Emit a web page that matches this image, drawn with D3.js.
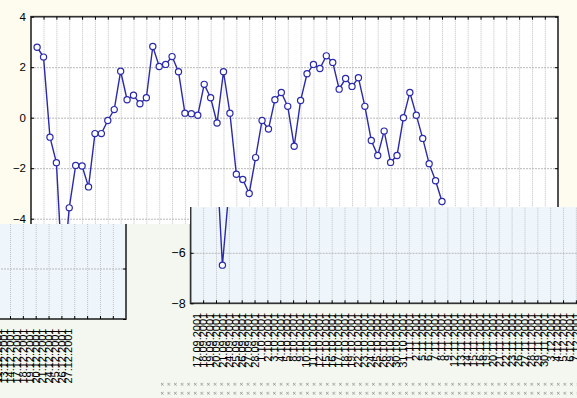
<!DOCTYPE html>
<html>
<head>
<meta charset="utf-8">
<script src="https://cdn.jsdelivr.net/npm/d3@7"></script>
<style>
html, body { margin: 0; padding: 0; background: #fdfcee; }
svg { display: block; font-family: "Liberation Sans", Arial, sans-serif; }
</style>
</head>
<body>
<svg id="chart" width="577" height="398"></svg>
<script>
// trading days shown on the x axis
var dates = ["17.09.2001","18.09.2001","19.09.2001","20.09.2001","21.09.2001",
             "24.09.2001","25.09.2001","26.09.2001","27.09.2001","28.09.2001",
             "1.10.2001","2.10.2001","3.10.2001","4.10.2001","5.10.2001",
             "8.10.2001","9.10.2001","10.10.2001","11.10.2001","12.10.2001",
             "15.10.2001","16.10.2001","17.10.2001","18.10.2001","19.10.2001",
             "22.10.2001","23.10.2001","24.10.2001","25.10.2001","26.10.2001",
             "29.10.2001","30.10.2001","31.10.2001",
             "1.11.2001","2.11.2001","5.11.2001","6.11.2001","7.11.2001",
             "8.11.2001","9.11.2001","12.11.2001","13.11.2001","14.11.2001",
             "15.11.2001","16.11.2001","19.11.2001","20.11.2001","21.11.2001",
             "22.11.2001","23.11.2001","26.11.2001","27.11.2001","28.11.2001",
             "29.11.2001","30.11.2001",
             "3.12.2001","4.12.2001","5.12.2001","6.12.2001","7.12.2001",
             "10.12.2001","11.12.2001","13.12.2001","14.12.2001","17.12.2001",
             "18.12.2001","19.12.2001","20.12.2001","21.12.2001","24.12.2001",
             "25.12.2001","26.12.2001","27.12.2001"];

var values = [2.79, 2.40, -0.77, -1.78, -6.49, -3.57, -1.89, -1.91, -2.74, -0.63,
              -0.63, -0.11, 0.32, 1.84, 0.71, 0.89, 0.55, 0.79, 2.82, 2.03,
              2.11, 2.42, 1.82, 0.18, 0.16, 0.10, 1.32, 0.79, -0.21, 1.82,
              0.18, -2.24, -2.45, -3.00, -1.58, -0.11, -0.45, 0.71, 1.00, 0.45,
              -1.13, 0.68, 1.74, 2.11, 1.95, 2.45, 2.19, 1.13, 1.55, 1.24,
              1.58, 0.45, -0.90, -1.50, -0.53, -1.77, -1.50, 0.00, 1.00, 0.10,
              -0.82, -1.82, -2.50, -3.32];

var yTicks = [-8, -6, -4, -2, 0, 2, 4];

var svg = d3.select("#chart");

var x = d3.scaleLinear().domain([-0.95, 81.05]).range([31, 558]);
var y = d3.scaleLinear().domain([-8, 4]).range([319.7, 16.7]);

var gridIdx = d3.range(1, 80, 2);
var labelIdx = d3.range(dates.length);

function drawChart(g, outerBg, plotBg, yFont) {
	g.append("rect")
		.attr("x", -800).attr("y", -200)
		.attr("width", 2400).attr("height", 900)
		.attr("fill", outerBg);

	g.append("rect")
		.attr("x", 31).attr("y", y(4))
		.attr("width", 527).attr("height", y(-8) - y(4))
		.attr("fill", plotBg);

	// vertical grid
	g.append("g")
		.attr("transform", "translate(0," + y(-8) + ")")
		.call(d3.axisBottom(x).tickValues(gridIdx).tickSize(-(y(-8) - y(4))).tickFormat(""))
		.call(function(a){ a.select(".domain").remove(); })
		.selectAll("line")
		.attr("stroke", "#c0c0c0")
		.attr("stroke-dasharray", "1,1");

	// horizontal grid
	g.append("g")
		.attr("transform", "translate(31,0)")
		.call(d3.axisLeft(y).tickValues([-6, -4, -2, 0, 2]).tickSize(-527).tickFormat(""))
		.call(function(a){ a.select(".domain").remove(); })
		.selectAll("line")
		.attr("stroke", "#b8b8b8")
		.attr("stroke-dasharray", "2,1");

	var line = d3.line()
		.x(function(d, i){ return x(i); })
		.y(function(d){ return y(d); });

	g.append("path")
		.datum(values)
		.attr("d", line)
		.attr("fill", "none")
		.attr("stroke", "#2a2aaa")
		.attr("stroke-width", 1.4);

	g.selectAll("circle.pt")
		.data(values)
		.enter()
		.append("circle")
		.attr("class", "pt")
		.attr("cx", function(d, i){ return x(i); })
		.attr("cy", function(d){ return y(d); })
		.attr("r", 3.1)
		.attr("fill", "#ffffff")
		.attr("stroke", "#2a2aaa")
		.attr("stroke-width", 1.2);

	// frame
	g.append("rect")
		.attr("x", 31).attr("y", y(4))
		.attr("width", 527).attr("height", y(-8) - y(4))
		.attr("fill", "none")
		.attr("stroke", "#333333")
		.attr("stroke-width", 1.7);

	// inward ticks
	g.append("g")
		.attr("transform", "translate(0," + y(4) + ")")
		.call(d3.axisTop(x).tickValues(gridIdx).tickSize(-3).tickFormat(""))
		.call(function(a){ a.select(".domain").remove(); });
	g.append("g")
		.attr("transform", "translate(0," + y(-8) + ")")
		.call(d3.axisBottom(x).tickValues(gridIdx).tickSize(-3).tickFormat(""))
		.call(function(a){ a.select(".domain").remove(); });
	g.append("g")
		.attr("transform", "translate(558,0)")
		.call(d3.axisRight(y).tickValues(yTicks).tickSize(-3).tickFormat(""))
		.call(function(a){ a.select(".domain").remove(); });

	// y axis labels
	g.append("g")
		.attr("transform", "translate(31,0)")
		.call(d3.axisLeft(y).tickValues(yTicks).tickSize(-3).tickPadding(5).tickFormat(d3.format("d")))
		.call(function(a){ a.select(".domain").remove(); })
		.selectAll("text")
		.attr("font-size", yFont)
		.attr("font-family", "Liberation Sans, Arial, sans-serif")
		.attr("fill", "#000");

	// x axis labels, rotated
	g.append("g")
		.attr("transform", "translate(0," + y(-8) + ")")
		.call(d3.axisBottom(x).tickValues(labelIdx).tickSize(0).tickFormat(function(i){ return dates[i]; }))
		.call(function(a){ a.select(".domain").remove(); })
		.selectAll("text")
		.attr("transform", "rotate(-90)")
		.attr("x", -9.5)
		.attr("y", 0)
		.attr("dy", "0.35em")
		.style("text-anchor", "end")
		.attr("font-size", "11px")
		.attr("font-family", "Liberation Sans, Arial, sans-serif")
		.attr("fill", "#000");
}

var defs = svg.append("defs");

defs.append("clipPath").attr("id", "clipLeft")
	.append("rect").attr("x", 0).attr("y", 224).attr("width", 160).attr("height", 174);

var cr = defs.append("clipPath").attr("id", "clipRight");
cr.append("rect").attr("x", 190).attr("y", 207).attr("width", 387).attr("height", 191);
cr.append("rect").attr("x", 160).attr("y", 224).attr("width", 30).attr("height", 174);

var pat = defs.append("pattern")
	.attr("id", "dots")
	.attr("patternUnits", "userSpaceOnUse")
	.attr("x", 160).attr("y", 382)
	.attr("width", 6.6).attr("height", 9);
pat.append("path")
	.attr("d", "M1,1 L3.5,3.5 M3.5,1 L1,3.5")
	.attr("stroke", "#8a8a8a")
	.attr("stroke-width", 0.8);

// main view
drawChart(svg.append("g"), "#fdfcee", "#ffffff", "11.5px");

// left fragment
var left = svg.append("g").attr("clip-path", "url(#clipLeft)")
	.append("g").attr("transform", "translate(-432,-0.7)");
drawChart(left, "#f3f7ef", "#eef6fb", "12.5px");

// right fragment
var right = svg.append("g").attr("clip-path", "url(#clipRight)");
drawChart(right.append("g").attr("transform", "translate(159.6,-16.4)"), "#f3f7ef", "#eef6fb", "12.5px");

right.append("rect")
	.attr("x", 160).attr("y", 382)
	.attr("width", 417).attr("height", 14)
	.attr("fill", "url(#dots)");
</script>
</body>
</html>
